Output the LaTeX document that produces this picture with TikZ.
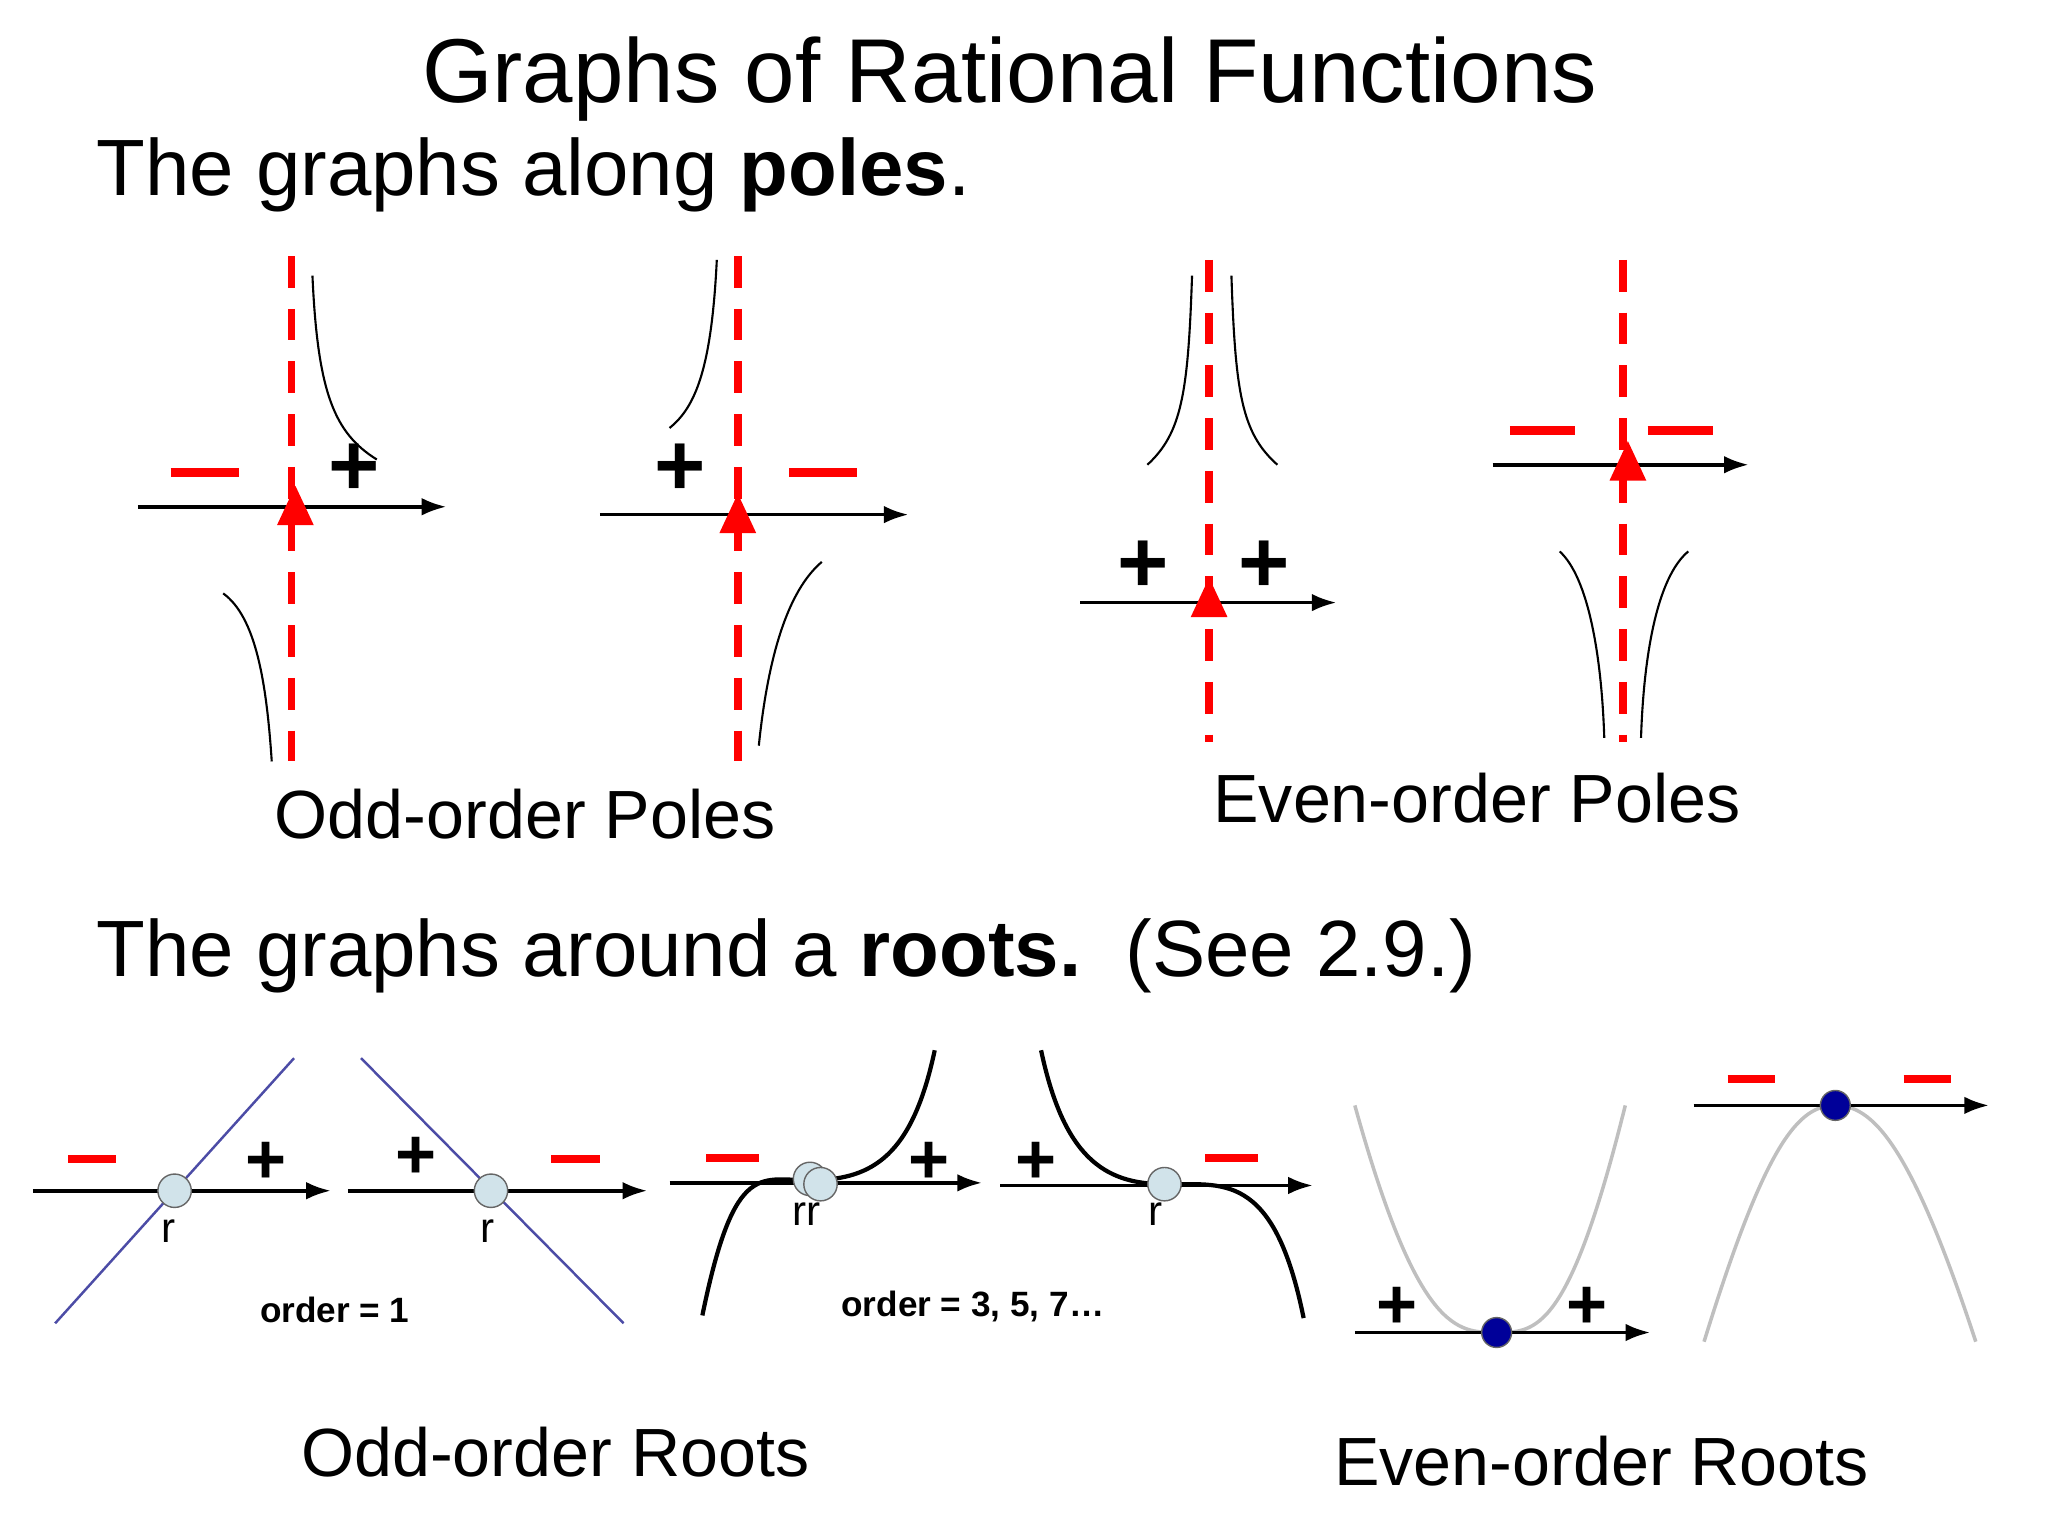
\documentclass[tikz,border=0pt]{standalone}
\usepackage{fontspec}
\setmainfont{Liberation Sans}
\usetikzlibrary{arrows.meta}
\begin{document}
\begin{tikzpicture}[x=0.013128cm,y=-0.013128cm,
  asym/.style={red,dashed,line width=2.2pt,dash pattern=on 9pt off 6pt},
  ax/.style={-{Latex[length=7pt,width=5pt]},line width=1pt},
  crv/.style={line width=0.6pt},
  tri/.style={fill=red,draw=none},
  mn/.style={red,line width=2.6pt},
  pl/.style={font=\fontsize{25}{25}\selectfont\bfseries},
  pls/.style={font=\fontsize{20}{20}\selectfont\bfseries},
  mns/.style={red,line width=2.4pt},
  rt/.style={circle,draw=black!60,fill=cyan!15!teal!20,minimum size=9.5pt,inner sep=0pt},
  rtb/.style={circle,draw=black!60,fill=blue!60!black,minimum size=8.5pt,inner sep=0pt},
  rl/.style={font=\fontsize{12}{12}\selectfont},
  ord/.style={font=\fontsize{10}{10}\selectfont\bfseries}]
\useasboundingbox (0,0) rectangle (1560,1170);
\node[font=\fontsize{25.8}{25.8}\selectfont] at (769,60) {Graphs of Rational Functions};
\node[anchor=west,font=\fontsize{22.7}{22.7}\selectfont] at (64,133) {The graphs along \textbf{poles}.};
% panel 1
\draw[ax] (105,386) -- (340,386);
\draw[asym] (222,195) -- (222,580);
\draw[crv] (238,210) .. controls (242,300) and (255,330) .. (287,350);
\draw[crv] (170,452) .. controls (195,470) and (203,520) .. (207,580);
\fill[tri] (211,400) -- (239,400) -- (225,370) -- cycle;
\draw[mn] (130,360) -- (182,360);
\node[pl] at (270,358) {+};
% panel 2
\draw[ax] (457,392) -- (692,392);
\draw[asym] (562,195) -- (562,580);
\draw[crv] (546,198) .. controls (542,280) and (530,310) .. (510,326);
\draw[crv] (626,428) .. controls (600,450) and (585,500) .. (578,568);
\fill[tri] (548,406) -- (576,406) -- (562,376) -- cycle;
\draw[mn] (601,360) -- (653,360);
\node[pl] at (518,358) {+};
% panel 3
\draw[ax] (823,459) -- (1018,459);
\draw[asym] (921,198) -- (921,565);
\draw[crv] (908,210) .. controls (905,300) and (900,330) .. (874,354);
\draw[crv] (938,210) .. controls (941,300) and (946,330) .. (973,354);
\fill[tri] (907,470) -- (935,470) -- (921,440) -- cycle;
\node[pl] at (871,432) {+};
\node[pl] at (963,432) {+};
% panel 4
\draw[ax] (1137,354) -- (1332,354);
\draw[asym] (1236,198) -- (1236,565);
\draw[crv] (1188,420) .. controls (1210,440) and (1220,500) .. (1222,562);
\draw[crv] (1286,420) .. controls (1262,440) and (1252,500) .. (1250,562);
\fill[tri] (1226,366) -- (1254,366) -- (1240,336) -- cycle;
\draw[mn] (1150,328) -- (1200,328);
\draw[mn] (1255,328) -- (1305,328);
\node[font=\fontsize{19.4}{19.4}\selectfont] at (400,620) {Odd-order Poles};
\node[font=\fontsize{19.4}{19.4}\selectfont] at (1125,608) {Even-order Poles};
\node[anchor=west,font=\fontsize{22.7}{22.7}\selectfont] at (64,728) {The graphs around a \textbf{roots.}\ \ (See 2.9.)};
% roots a
\draw[ax] (25,907) -- (252,907);
\draw[blue!50!black!70,line width=0.7pt] (42,1008) -- (224,806);
\node[rt] at (133,907) {};
\node[rl] at (128,938) {r};
\draw[mns] (52,883) -- (88,883);
\node[pls] at (203,886) {+};
% roots b
\draw[ax] (265,907) -- (493,907);
\draw[blue!50!black!70,line width=0.7pt] (275,806) -- (475,1008);
\node[rt] at (374,907) {};
\node[rl] at (371,938) {r};
\node[pls] at (317,882) {+};
\draw[mns] (420,883) -- (457,883);
\node[ord] at (255,998) {order = 1};
% roots c
\draw[ax] (510,901) -- (748,901);
\draw[line width=1.2pt] (535,1002) .. controls (560,880) and (580,900) .. (620,899) .. controls (665,898) and (695,880) .. (712,800);
\node[rt] at (617,898) {};
\node[rt] at (625,902) {};
\node[rl] at (614,925) {rr};
\draw[mns] (538,882) -- (578,882);
\node[pls] at (708,886) {+};
% roots d
\draw[ax] (762,903) -- (1000,903);
\draw[line width=1.2pt] (793,800) .. controls (810,880) and (840,902) .. (887,902) .. controls (930,903) and (970,890) .. (993,1004);
\node[rt] at (887,902) {};
\node[rl] at (880,925) {r};
\node[pls] at (789,886) {+};
\draw[mns] (918,882) -- (958,882);
\node[ord] at (741,995) {order = 3, 5, 7\dots};
% roots e
\draw[black!25,line width=1pt] (1032,842) .. controls (1080,1015) and (1110,1015) .. (1140,1015) .. controls (1170,1015) and (1195,1015) .. (1238,842);
\draw[ax] (1032,1015) -- (1257,1015);
\node[rtb] at (1140,1015) {};
\node[pls] at (1064,996) {+};
\node[pls] at (1209,996) {+};
% roots f
\draw[black!25,line width=1pt] (1298,1022) .. controls (1345,870) and (1370,842) .. (1398,842) .. controls (1426,842) and (1455,870) .. (1505,1022);
\draw[ax] (1290,842) -- (1515,842);
\node[rtb] at (1398,842) {};
\draw[mns] (1316,822) -- (1352,822);
\draw[mns] (1450,822) -- (1486,822);
\node[font=\fontsize{19.4}{19.4}\selectfont] at (423,1106) {Odd-order Roots};
\node[font=\fontsize{19.4}{19.4}\selectfont] at (1220,1113) {Even-order Roots};
\end{tikzpicture}
\end{document}
